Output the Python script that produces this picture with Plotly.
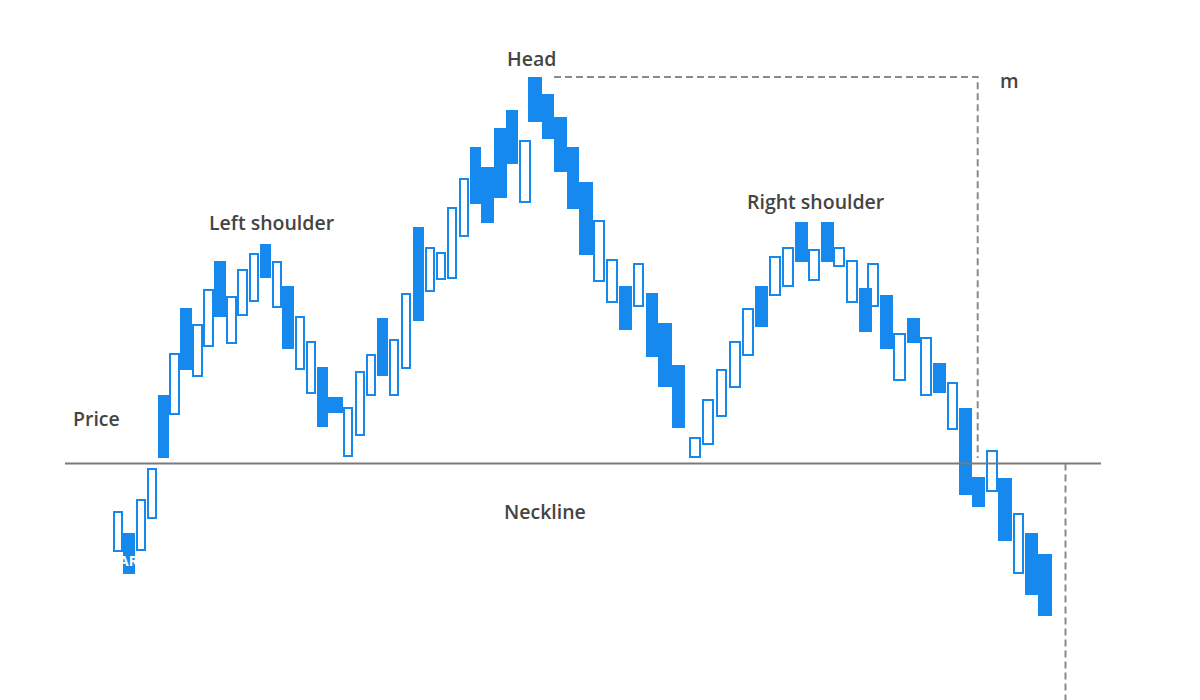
import plotly.graph_objects as go

# ---- data: candle time span (start, end), open, close ----
t_start = [112.7,123,135.7,147,157.5,169,180,192,203,214,226,237,248.7,260,271.7,282,294.7,305.7,316.5,328,
           343,355,366,376.7,389,400.7,412.7,425,436,447,458.7,469.7,480.7,494,505.7,519,528,541.5,554,566.7,
           579,593,606,619,632.7,645.7,658,671.7,689,702,715.7,729,742,755,769,781.7,795,808,821,833,
           846,859,867,880,893.3,906.5,920,932.7,946.7,959,972,986,998,1012.7,1025.3,1038.3]
t_end = [122.7,135,145.7,157,169,180,191.7,202.7,214,225.7,236.7,247.7,259,271,282,294,304.7,315.7,327.5,342.7,
         353,365,376,388,399,410.7,424,435,446,457,468.7,480.7,494,506.7,518,531,541.5,554,567,579,
         592.7,605,618,631.7,644,658,671.7,685,701,714,727,740.7,754,768,780.7,794,807.7,820,834,845,
         858,872,879,892.7,905.5,919.5,932,945.7,958,972,985,997.7,1011.7,1024.3,1038.3,1051.7]
# price levels (top / bottom of each body)
top = [511,533,499,468,395,353,308,324,289,261,296,269,253,244,261,286,316,341,367,397,
       407,371,354,318,339,293,227,247,252,207,178,147,167,128,110,140,77,94,117,147,
       182,220,259,286,263,293,323,365,437,399,369,341,308,286,256,247,222,249,222,247,
       260,288,263,295,333,317.5,337,363,382,408,477,450,478,513,533,554]
bottom = [552,574,551,519,457.5,415,370,377,347,317,344,316,302,278,308,349,370,394,427,413,
          457,436,396,376,396,369,321,292,280,279,237,204,223,198,164,203,122,139,172,209,
          255,282,303,330,307,357,387,428,458,445,417,388,356,327,296,287,262,281,262,267,
          303,332,307,349,381,343,396,393,430,495,507,492,541,574,595,616]
# 1 = hollow (rising), 0 = filled (falling)
hollow = [1,0,1,1,0,1,0,1,1,0,1,1,1,0,1,0,1,1,0,0,
          1,1,1,0,1,1,0,1,1,1,1,0,0,0,0,1,0,0,0,0,
          0,1,1,0,1,0,0,0,1,1,1,1,1,0,1,1,0,1,0,1,
          1,0,1,0,1,0,1,0,1,0,0,1,0,1,0,0]

H = 700.0
hi = [H - v for v in top]
lo = [H - v for v in bottom]
opens = [lo[i] if hollow[i] else hi[i] for i in range(len(hi))]
closes = [hi[i] if hollow[i] else lo[i] for i in range(len(hi))]

neckline = H - 463.5
head_level = H - 77
m_end_level = H - 458
neck_x = [65, 1101]
m_x = 977.7
target_x = 1065.5

BLUE = "#1589EE"
LINE_W = 2

fig = go.Figure()

def add_bars(kind):
    xs, ws, bases, hs = [], [], [], []
    for i in range(len(opens)):
        if hollow[i] != kind:
            continue
        lo_v = min(opens[i], closes[i]); hi_v = max(opens[i], closes[i])
        c = (t_start[i] + t_end[i]) / 2
        w = t_end[i] - t_start[i]
        if kind == 1:
            xs.append(c); ws.append(w - LINE_W); bases.append(lo_v + LINE_W / 2); hs.append(hi_v - lo_v - LINE_W)
        else:
            xs.append(c); ws.append(w); bases.append(lo_v); hs.append(hi_v - lo_v)
    fig.add_trace(go.Bar(
        x=xs, y=hs, base=bases, width=ws,
        marker=dict(color="white" if kind == 1 else BLUE,
                    line=dict(color=BLUE, width=LINE_W if kind == 1 else 0)),
        hoverinfo="skip", showlegend=False))

add_bars(1)
add_bars(0)

# neckline
fig.add_trace(go.Scatter(x=neck_x, y=[neckline, neckline], mode="lines",
                         line=dict(color="#7a7a7a", width=2), hoverinfo="skip", showlegend=False))
# measured move (head to neckline)
fig.add_trace(go.Scatter(x=[t_end[37], m_x, m_x], y=[head_level, head_level, m_end_level], mode="lines",
                         line=dict(color="#8a8a8a", width=2, dash="7px,4px"), hoverinfo="skip", showlegend=False))
# target projection
fig.add_trace(go.Scatter(x=[target_x, target_x], y=[neckline, 0], mode="lines",
                         line=dict(color="#8a8a8a", width=2, dash="7px,4px"), hoverinfo="skip", showlegend=False))

FONT = dict(family="Open Sans", size=19.5, color="#444444", weight=600)
labels = [("Head", 531, H - 58), ("m", 1009, H - 80), ("Left shoulder", 272, H - 222),
          ("Right shoulder", 816, H - 201), ("Price", 96, H - 418), ("Neckline", 545, H - 511)]
for txt, x, y in labels:
    fig.add_annotation(x=x, y=y, text=txt, showarrow=False, font=FONT, xanchor="center", yanchor="middle")
# watermark fragment (white)
fig.add_annotation(x=129, y=H - 560, text="AR", showarrow=False,
                   font=dict(family="Open Sans", size=14, color="white", weight=700))

fig.update_layout(
    width=1200, height=700, margin=dict(l=0, r=0, t=0, b=0),
    paper_bgcolor="white", plot_bgcolor="white", barmode="overlay", bargap=0,
    xaxis=dict(range=[0, 1200], visible=False, fixedrange=True),
    yaxis=dict(range=[0, 700], visible=False, fixedrange=True),
)

fig.write_html("out.html", config={"displayModeBar": False},
               post_script="document.body.style.margin='0';")
